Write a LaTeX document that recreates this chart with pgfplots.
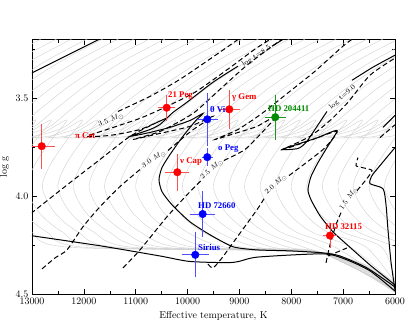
\documentclass[border=0pt]{standalone}
\usepackage{pgfplots}
\pgfplotsset{compat=1.18}
\usepackage{fontspec}
\newfontfamily\labfont{Liberation Serif}
\definecolor{lgray}{RGB}{208,208,208}
\definecolor{pred}{RGB}{255,0,0}
\definecolor{pblue}{RGB}{0,0,255}
\definecolor{pgreen}{RGB}{0,140,0}
\definecolor{ebpred}{RGB}{255,80,80}
\definecolor{ebpblue}{RGB}{80,80,255}
\definecolor{ebpgreen}{RGB}{30,150,30}
\pgfplotsset{
 gr/.style={lgray, line width=0.4pt, smooth, no markers},
 blk/.style={black, line width=1pt, smooth, tension=0.4, no markers},
 dsh/.style={black, line width=1pt, smooth, tension=0.4, no markers, dash pattern=on 5pt off 3pt},
 star/.style={only marks, mark=*, mark size=3.8pt, mark options={fill=#1, draw=#1},
   error bars/.cd, x dir=both, x explicit, y dir=both, y explicit,
   error bar style={color=eb#1, line width=0.7pt},
   error mark options={color=eb#1, mark size=3pt, line width=0.7pt}},
}
\newcommand{\lab}[4]{\node[anchor=west, text=#1, inner sep=0pt, font=\labfont\bfseries\fontsize{8.8}{9}\selectfont] at (axis cs:#2,#3) {#4};}
\newcommand{\trk}[4]{\node[rotate=#3, text=black, inner sep=0.5pt, font=\fontsize{7.2}{8}\selectfont] at (axis cs:#1,#2) {#4};}
\begin{document}
\begin{tikzpicture}
\useasboundingbox (-32bp,-25.6bp) rectangle (375bp,294.4bp);
\begin{axis}[
 scale only axis, width=363bp, height=254.9bp,
 xmin=6000, xmax=13000, ymin=3.2, ymax=4.5,
 x dir=reverse, y dir=reverse,
 xtick={6000,7000,...,13000},
 minor xtick={6500,7500,...,12500},
 ytick={3.5,4.0,4.5},
 minor ytick={3.25,3.75,4.25},
 scaled x ticks=false,
 yticklabel style={/pgf/number format/.cd,fixed,fixed zerofill,precision=1},
 xticklabel style={/pgf/number format/.cd,fixed,1000 sep={}},
 tick align=inside,
 major tick length=5bp, minor tick length=3bp,
 xlabel={Effective temperature, K},
 ylabel={log g},
 axis line style={line width=0.6pt},
 every tick/.style={black, line width=0.5pt},
]
% ---- gray isochrones
\addplot[gr] coordinates {(12410,3.14)(13570,3.30)};
\addplot[gr] coordinates {(12110,3.14)(13270,3.30)};
\addplot[gr] coordinates {(11810,3.14)(12970,3.30)(13740,3.43)};
\addplot[gr] coordinates {(11510,3.14)(12670,3.30)(13440,3.43)};
\addplot[gr] coordinates {(11210,3.14)(12370,3.30)(13140,3.43)(13720,3.55)};
\addplot[gr] coordinates {(10910,3.14)(12070,3.30)(12840,3.43)(13420,3.55)(13900,3.65)};
\addplot[gr] coordinates {(10610,3.14)(11770,3.30)(12540,3.43)(13120,3.55)(13600,3.65)(14180,3.70)(13510,3.69)(12930,3.61)(13220,3.71)(13550,3.84)(13700,3.955)(13470,4.08)(13020,4.18)(12250,4.26)(7400,4.29)(6000,4.44)};
\addplot[gr] coordinates {(10310,3.14)(11470,3.30)(12240,3.43)(12820,3.55)(13300,3.65)(13880,3.70)(13210,3.69)(12630,3.61)(12920,3.71)(13250,3.84)(13400,3.955)(13170,4.08)(12720,4.18)(11950,4.26)(7400,4.29)(6000,4.445)};
\addplot[gr] coordinates {(10010,3.14)(11170,3.30)(11940,3.43)(12520,3.55)(13000,3.65)(13580,3.70)(12910,3.69)(12330,3.61)(12620,3.71)(12950,3.84)(13100,3.955)(12870,4.08)(12420,4.18)(11650,4.26)(7400,4.29)(6000,4.45)};
\addplot[gr] coordinates {(9710,3.14)(10870,3.30)(11640,3.43)(12220,3.55)(12700,3.65)(13280,3.70)(12610,3.69)(12030,3.61)(12320,3.71)(12650,3.84)(12800,3.955)(12570,4.08)(12120,4.18)(11350,4.26)(7400,4.29)(6000,4.455)};
\addplot[gr] coordinates {(9410,3.14)(10570,3.30)(11340,3.43)(11920,3.55)(12400,3.65)(12980,3.70)(12310,3.69)(11730,3.61)(12020,3.71)(12350,3.84)(12500,3.955)(12270,4.08)(11820,4.18)(11050,4.26)(7400,4.29)(6000,4.46)};
\addplot[gr] coordinates {(9110,3.14)(10270,3.30)(11040,3.43)(11620,3.55)(12100,3.65)(12680,3.70)(12010,3.69)(11430,3.61)(11720,3.71)(12050,3.84)(12200,3.955)(11970,4.08)(11520,4.18)(10750,4.26)(7400,4.29)(6000,4.465)};
\addplot[gr] coordinates {(8810,3.14)(9970,3.30)(10740,3.43)(11320,3.55)(11800,3.65)(12380,3.70)(11710,3.69)(11130,3.61)(11420,3.71)(11750,3.84)(11900,3.955)(11670,4.08)(11220,4.18)(10450,4.26)(7400,4.29)(6000,4.47)};
\addplot[gr] coordinates {(8510,3.14)(9670,3.30)(10440,3.43)(11020,3.55)(11500,3.65)(12080,3.70)(11410,3.69)(10830,3.61)(11120,3.71)(11450,3.84)(11600,3.955)(11370,4.08)(10920,4.18)(10150,4.26)(7400,4.29)(6000,4.475)};
\addplot[gr] coordinates {(8210,3.14)(9370,3.30)(10140,3.43)(10720,3.55)(11200,3.65)(11780,3.70)(11110,3.69)(10530,3.61)(10820,3.71)(11150,3.84)(11300,3.955)(11070,4.08)(10620,4.18)(9850,4.26)(7400,4.29)(6000,4.48)};
\addplot[gr] coordinates {(7910,3.14)(9070,3.30)(9840,3.43)(10420,3.55)(10900,3.65)(11480,3.70)(10810,3.69)(10230,3.61)(10520,3.71)(10850,3.84)(11000,3.955)(10770,4.08)(10320,4.18)(9550,4.26)(7400,4.29)(6000,4.485)};
\addplot[gr] coordinates {(7610,3.14)(8770,3.30)(9540,3.43)(10120,3.55)(10600,3.65)(11180,3.70)(10510,3.69)(9930,3.61)(10220,3.71)(10550,3.84)(10700,3.955)(10470,4.08)(10020,4.18)(9250,4.26)(7400,4.29)(6000,4.49)};
\addplot[gr] coordinates {(7310,3.14)(8470,3.30)(9240,3.43)(9820,3.55)(10300,3.65)(10880,3.70)(10210,3.69)(9630,3.61)(9920,3.71)(10250,3.84)(10400,3.955)(10170,4.08)(9720,4.18)(8950,4.26)(7400,4.29)(6000,4.485)};
\addplot[gr] coordinates {(7010,3.14)(8170,3.30)(8940,3.43)(9520,3.55)(10000,3.65)(10580,3.70)(9910,3.69)(9330,3.61)(9620,3.71)(9950,3.84)(10100,3.955)(9870,4.08)(9420,4.18)(8650,4.26)(7400,4.29)(6000,4.48)};
\addplot[gr] coordinates {(6710,3.14)(7870,3.30)(8640,3.43)(9220,3.55)(9700,3.65)(10280,3.70)(9610,3.69)(9030,3.61)(9320,3.71)(9650,3.84)(9800,3.955)(9570,4.08)(9120,4.18)(8350,4.26)(7400,4.29)(6000,4.475)};
\addplot[gr] coordinates {(6410,3.14)(7570,3.30)(8340,3.43)(8920,3.55)(9400,3.65)(9980,3.70)(9310,3.69)(8730,3.61)(9020,3.71)(9350,3.84)(9500,3.955)(9270,4.08)(8820,4.18)(8050,4.26)(7400,4.29)(6000,4.47)};
\addplot[gr] coordinates {(6110,3.14)(7270,3.30)(8040,3.43)(8620,3.55)(9100,3.65)(9680,3.70)(9010,3.69)(8430,3.61)(8720,3.71)(9050,3.84)(9200,3.955)(8970,4.08)(8520,4.18)(7750,4.26)(7300,4.30)(6000,4.465)};
\addplot[gr] coordinates {(5810,3.14)(6970,3.30)(7740,3.43)(8320,3.55)(8800,3.65)(9380,3.70)(8710,3.69)(8130,3.61)(8420,3.71)(8750,3.84)(8900,3.955)(8670,4.08)(8220,4.18)(7450,4.26)(6000,4.46)};
\addplot[gr] coordinates {(5510,3.14)(6670,3.30)(7440,3.43)(8020,3.55)(8500,3.65)(9080,3.70)(8410,3.69)(7830,3.61)(8120,3.71)(8450,3.84)(8600,3.955)(8370,4.08)(7920,4.18)(7150,4.26)(6000,4.455)};
\addplot[gr] coordinates {(5210,3.14)(6370,3.30)(7140,3.43)(7720,3.55)(8200,3.65)(8780,3.70)(8110,3.69)(7530,3.61)(7820,3.71)(8150,3.84)(8300,3.955)(8070,4.08)(7620,4.18)(6850,4.26)(6000,4.45)};
\addplot[gr] coordinates {(4910,3.14)(6070,3.30)(6840,3.43)(7420,3.55)(7900,3.65)(8480,3.70)(7810,3.69)(7230,3.61)(7520,3.71)(7850,3.84)(8000,3.955)(7770,4.08)(7320,4.18)(6550,4.26)(6000,4.44)};
\addplot[gr] coordinates {(4610,3.14)(5770,3.30)(6540,3.43)(7120,3.55)(7600,3.65)(8180,3.70)(7510,3.69)(6930,3.61)(7220,3.71)(7550,3.84)(7700,3.955)(7470,4.08)(7020,4.18)(6250,4.26)(6000,4.43)};
\addplot[gr] coordinates {(5470,3.30)(6240,3.43)(6820,3.55)(7300,3.65)(7880,3.70)(7210,3.69)(6630,3.61)(6920,3.71)(7250,3.84)(7400,3.955)(7170,4.08)(6720,4.18)(5950,4.26)};
\addplot[gr] coordinates {(5170,3.30)(5940,3.43)(6520,3.55)(7000,3.65)(7580,3.70)(6910,3.69)(6330,3.61)(6620,3.71)(6950,3.84)(7100,3.955)(6870,4.08)(6420,4.18)(5650,4.26)};
\addplot[gr] coordinates {(4870,3.30)(5640,3.43)(6220,3.55)(6700,3.65)(7280,3.70)(6610,3.69)(6030,3.61)(6320,3.71)(6650,3.84)(6800,3.955)(6570,4.08)(6120,4.18)(5350,4.26)};
\addplot[gr] coordinates {(5340,3.43)(5920,3.55)(6400,3.65)(6980,3.70)(6310,3.69)(5730,3.61)(6020,3.71)(6350,3.84)(6500,3.955)(6270,4.08)(5820,4.18)(5050,4.26)};
\addplot[gr] coordinates {(5040,3.43)(5620,3.55)(6100,3.65)(6680,3.70)(6010,3.69)(5430,3.61)(5720,3.71)(6050,3.84)(6200,3.955)(5970,4.08)(5520,4.18)};
% ---- black isochrones
\addplot[blk] coordinates {(13300,3.41)(12470,3.30)(11600,3.185)};
\addplot[blk] coordinates {(13000,4.201)(11689,4.252)(10532,4.304)(9953,4.332)(9124,4.337)(8661,4.31)(7388,4.293)(6964,4.32)(6482,4.38)(6000,4.483)};
\addplot[blk] coordinates {(6000,4.462)(6540,4.365)(7061,4.304)(7388,4.288)(8025,4.278)(8661,4.273)(9124,4.257)(9567,4.196)(9953,4.130)(10300,4.043)(10493,3.976)(10551,3.915)(10493,3.853)(10339,3.787)(10107,3.700)(9857,3.618)(9702,3.577)(9953,3.613)(10339,3.648)(10725,3.674)(11110,3.694)(10725,3.659)(10532,3.633)(10281,3.572)(10011,3.520)(9510,3.418)(9028,3.336)};
\addplot[blk] coordinates {(8372,3.234)(8121,3.193)(8025,3.172)};
\addplot[blk] coordinates {(6000,4.452)(6482,4.350)(6964,4.237)(7196,4.181)(7446,4.099)(7620,4.017)(7678,3.966)(7620,3.899)(7485,3.828)(7311,3.751)(7118,3.664)(7485,3.700)(7832,3.730)(8179,3.761)(7870,3.756)(7716,3.725)(7581,3.674)(7388,3.597)(7311,3.567)};
\addplot[blk] coordinates {(6829,3.408)(6424,3.341)(6000,3.280)};
\addplot[blk] coordinates {(6000,3.751)(6289,3.843)(6443,3.894)(6482,3.935)(6231,3.961)(6173,4.043)(6135,4.171)(6077,4.334)(6000,4.478)};
\addplot[blk] coordinates {(6231,3.648)(6000,3.587)};
% ---- dashed tracks
\addplot[dsh] coordinates {(13135,4.114)(13000,4.083)(12267,3.930)(11689,3.812)(11110,3.694)(10628,3.628)(10377,3.597)(10917,3.659)(11496,3.689)(11939,3.694)(11496,3.654)(10917,3.602)(10435,3.546)(9857,3.469)(9278,3.362)(8700,3.249)(8372,3.193)(8121,3.147)};
\addplot[dsh] coordinates {(11342,3.567)(10725,3.490)(10146,3.403)(9433,3.275)(8989,3.193)(8796,3.157)};
\addplot[dsh] coordinates {(12807,4.370)(12556,4.314)(12325,4.273)(12017,4.155)(11689,4.053)(11303,3.950)(10917,3.863)};
\addplot[dsh] coordinates {(10377,3.766)(9915,3.664)(9510,3.592)(9953,3.643)(10532,3.679)(11052,3.710)(10532,3.669)(9895,3.577)(9375,3.454)(8854,3.331)(8314,3.224)(7986,3.167)};
\addplot[dsh] coordinates {(11245,4.365)(10917,4.273)(10397,4.104)(9953,3.976)(9741,3.920)};
\addplot[dsh] coordinates {(9298,3.817)(8893,3.761)(8565,3.674)(8275,3.587)(8661,3.643)(9085,3.679)(9471,3.710)(9028,3.659)(8565,3.577)(8025,3.464)(7543,3.362)(7003,3.234)(6771,3.188)};
\addplot[dsh] coordinates {(9606,4.345)(9510,4.365)(9336,4.314)(9124,4.237)(8661,4.068)(8526,4.012)};
\addplot[dsh] coordinates {(8044,3.894)(7388,3.761)(7118,3.669)(7639,3.715)(8160,3.761)(7639,3.694)(7253,3.613)(6906,3.520)(6482,3.382)(6000,3.295)};
\addplot[dsh] coordinates {(7330,4.339)(7253,4.247)(7138,4.145)(7041,4.083)};
\addplot[dsh] coordinates {(6733,3.971)(6559,3.915)(6443,3.868)(6636,3.853)(6752,3.843)(6713,3.802)};
\addplot[dsh] coordinates {(7292,4.304)(6925,4.263)};
\addplot[dsh] coordinates {(6289,3.700)(6000,3.635)};
% ---- stars
\addplot[star=pred] coordinates {(12813,3.744) +- (200,0.10) (10403,3.548) +- (100,0.05) (9195,3.556) +- (150,0.085) (10198,3.877) +- (170,0.08) (7254,4.20) +- (80,0.05)};
\addplot[star=pblue] coordinates {(9620,3.607) +- (150,0.12) (9620,3.80) +- (50,0.03) (9709,4.09) +- (190,0.10) (9851,4.298) +- (200,0.10)};
\addplot[star=pgreen] coordinates {(8308,3.596) +- (140,0.10)};
% ---- labels
\lab{pred}{12171}{3.691}{π Cet}
\lab{pred}{10377}{3.487}{21 Peg}
\lab{pred}{9143}{3.497}{γ Gem}
\lab{pred}{10146}{3.820}{ν Cap}
\lab{pred}{7350}{4.153}{HD 32115}
\lab{pblue}{9567}{3.559}{θ Vir}
\lab{pblue}{9413}{3.758}{ο Peg}
\lab{pblue}{9799}{4.048}{HD 72660}
\lab{pblue}{9799}{4.263}{Sirius}
\lab{pgreen}{8449}{3.551}{HD 204411}
\trk{11477}{3.613}{22}{3.5 $M_\odot$}
\trk{10647}{3.812}{33}{3.0 $M_\odot$}
\trk{9529}{3.863}{40}{2.5 $M_\odot$}
\trk{8295}{3.940}{42}{2.0 $M_\odot$}
\trk{6887}{4.012}{55}{1.5 $M_\odot$}
\trk{8671}{3.285}{34}{log t=8.5}
\trk{7012}{3.495}{42}{log t=9.0}
\end{axis}
\end{tikzpicture}
\end{document}
